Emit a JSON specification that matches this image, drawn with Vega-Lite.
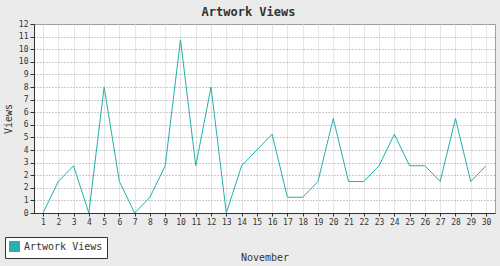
{
  "$schema": "https://vega.github.io/schema/vega-lite/v6.json",
  "autosize": "none",
  "width": 461,
  "height": 189,
  "padding": {"left": 34, "top": 24, "right": 5, "bottom": 53},
  "background": "#EBEBEB",
  "config": {
    "font": "DejaVu Sans Mono",
    "view": {"fill": "white", "stroke": "#A0A0A0", "strokeWidth": 1}
  },
  "title": {
    "text": "Artwork Views",
    "font": "DejaVu Sans Mono",
    "fontSize": 12,
    "fontWeight": "bold",
    "color": "#333333",
    "anchor": "middle",
    "dx": -16,
    "offset": 1
  },
  "data": {
    "values": [
      {"day": 1, "views": 0, "series": "Artwork Views"},
      {"day": 2, "views": 2, "series": "Artwork Views"},
      {"day": 3, "views": 3, "series": "Artwork Views"},
      {"day": 4, "views": 0, "series": "Artwork Views"},
      {"day": 5, "views": 8, "series": "Artwork Views"},
      {"day": 6, "views": 2, "series": "Artwork Views"},
      {"day": 7, "views": 0, "series": "Artwork Views"},
      {"day": 8, "views": 1, "series": "Artwork Views"},
      {"day": 9, "views": 3, "series": "Artwork Views"},
      {"day": 10, "views": 11, "series": "Artwork Views"},
      {"day": 11, "views": 3, "series": "Artwork Views"},
      {"day": 12, "views": 8, "series": "Artwork Views"},
      {"day": 13, "views": 0, "series": "Artwork Views"},
      {"day": 14, "views": 3, "series": "Artwork Views"},
      {"day": 15, "views": 4, "series": "Artwork Views"},
      {"day": 16, "views": 5, "series": "Artwork Views"},
      {"day": 17, "views": 1, "series": "Artwork Views"},
      {"day": 18, "views": 1, "series": "Artwork Views"},
      {"day": 19, "views": 2, "series": "Artwork Views"},
      {"day": 20, "views": 6, "series": "Artwork Views"},
      {"day": 21, "views": 2, "series": "Artwork Views"},
      {"day": 22, "views": 2, "series": "Artwork Views"},
      {"day": 23, "views": 3, "series": "Artwork Views"},
      {"day": 24, "views": 5, "series": "Artwork Views"},
      {"day": 25, "views": 3, "series": "Artwork Views"},
      {"day": 26, "views": 3, "series": "Artwork Views"},
      {"day": 27, "views": 2, "series": "Artwork Views"},
      {"day": 28, "views": 6, "series": "Artwork Views"},
      {"day": 29, "views": 2, "series": "Artwork Views"},
      {"day": 30, "views": 3, "series": "Artwork Views"}
    ]
  },
  "mark": {"type": "line", "strokeWidth": 1, "interpolate": "linear"},
  "encoding": {
    "x": {
      "field": "day",
      "type": "quantitative",
      "scale": {"domain": [0.41, 30.59], "nice": false, "zero": false},
      "axis": {
        "title": "November",
        "titleFont": "DejaVu Sans Mono",
        "titleFontSize": 10,
        "titleFontWeight": "normal",
        "titleColor": "#333333",
        "titlePadding": 26,
        "values": [1,2,3,4,5,6,7,8,9,10,11,12,13,14,15,16,17,18,19,20,21,22,23,24,25,26,27,28,29,30],
        "labelFont": "DejaVu Sans Mono",
        "labelFontSize": 8,
        "labelColor": "#333333",
        "labelPadding": 2,
        "labelFlush": false,
        "labelOverlap": false,
        "tickSize": 3,
        "tickColor": "#333333",
        "domainColor": "#333333",
        "grid": true,
        "gridColor": "#E6E6E6",
        "gridWidth": 1
      }
    },
    "y": {
      "field": "views",
      "type": "quantitative",
      "scale": {"domain": [0, 12], "nice": false},
      "axis": {
        "title": "Views",
        "titleFont": "DejaVu Sans Mono",
        "titleFontSize": 10,
        "titleFontWeight": "normal",
        "titleColor": "#333333",
        "titlePadding": 5,
        "values": [0, 0.8, 1.6, 2.4, 3.2, 4, 4.8, 5.6, 6.4, 7.2, 8, 8.8, 9.6, 10.4, 11.2, 12],
        "labelExpr": "round(datum.value)",
        "labelFont": "DejaVu Sans Mono",
        "labelFontSize": 8,
        "labelColor": "#333333",
        "labelPadding": 2,
        "labelFlush": false,
        "labelOverlap": false,
        "tickSize": 4,
        "tickColor": "#333333",
        "domainColor": "#333333",
        "grid": true,
        "gridColor": "#999999",
        "gridDash": [1, 2],
        "gridWidth": 1
      }
    },
    "color": {
      "field": "series",
      "type": "nominal",
      "scale": {"range": ["#22B0AA"]},
      "legend": {
        "title": null,
        "orient": "none",
        "legendX": -29,
        "legendY": 213,
        "symbolType": "square",
        "symbolSize": 100,
        "symbolFillColor": "#2AB0AC",
        "symbolStrokeColor": "#333333",
        "symbolStrokeWidth": 1,
        "labelFont": "DejaVu Sans Mono",
        "labelFontSize": 10,
        "labelColor": "#333333",
        "labelOffset": 4,
        "padding": 4,
        "fillColor": "white",
        "strokeColor": "#333333"
      }
    }
  }
}
